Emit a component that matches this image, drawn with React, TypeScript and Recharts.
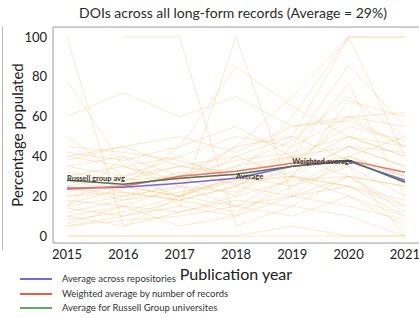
import React from "react";
import {
  LineChart,
  Line,
  XAxis,
  YAxis,
  ReferenceLine,
  Legend,
} from "recharts";

const YEARS = [2015, 2016, 2017, 2018, 2019, 2020, 2021];

// mean across repositories, weighted by records, Russell Group only
const AVERAGE = [24, 24.5, 26.5, 29, 35, 37.5, 28];
const WEIGHTED = [23.5, 25, 30, 32.5, 36.5, 38, 32];
const RUSSELL = [28, 26, 29, 31, 35, 38, 27];

// one row per repository, % of records with a DOI per year
const REPOSITORIES: (number | null)[][] = [
  [100, 5, 20, 15, 30, 25, 10],
  [78, 35, 40, 25, 20, 30, 15],
  [60, 72, 60, 70, 55, 60, 45],
  [null, 100, 100, 5, 15, 30, 25],
  [15, 40, 15, 100, 20, 40, 30],
  [30, 25, 45, 85, 65, 50, 40],
  [40, 45, 35, 30, 60, 100, 100],
  [25, 20, 30, 45, 70, 100, 100],
  [10, 15, 25, 40, 50, 100, 40],
  [35, 30, 40, 50, 45, 86, 55],
  [20, 25, 20, 35, 40, 77, 20],
  [0, 0, 0, 0, 0, 0, 0],
  [5, 10, 15, 10, 30, 68, 60],
  [45, 42, 38, 30, 35, 40, 50],
  [12, 18, 22, 28, 32, 45, 35],
  [28, 22, 18, 25, 38, 55, 48],
  [8, 12, 20, 30, 25, 35, 0],
  [35, 40, 30, 20, 45, 60, 55],
  [18, 15, 12, 20, 28, 30, 25],
  [25, 30, 35, 32, 40, 45, 42],
  [40, 35, 25, 15, 10, 20, 5],
  [22, 28, 30, 38, 42, 50, 45],
  [5, 8, 10, 15, 20, 25, 18],
  [30, 35, 28, 45, 50, 38, 30],
  [15, 20, 25, 22, 35, 60, 62],
  [50, 30, 20, 28, 30, 25, 15],
  [10, 5, 12, 18, 15, 10, 0],
  [32, 28, 35, 40, 30, 45, 35],
  [20, 22, 18, 12, 25, 40, 30],
  [38, 45, 50, 42, 55, 58, 45],
  [14, 10, 18, 25, 40, 35, 20],
  [25, 18, 28, 35, 48, 70, 50],
  [42, 38, 45, 55, 40, 30, 12],
  [6, 15, 5, 10, 20, 15, 8],
  [30, 25, 20, 30, 35, 50, 40],
  [16, 24, 32, 26, 30, 20, 10],
  [0, 0, 0, 0, 5, 0, 0],
];

const Y_TICKS = [0, 20, 40, 60, 80, 100];

const LEGEND_ITEMS = [
  { label: "Average across repositories", color: "#7468dc" },
  { label: "Weighted average by number of records", color: "#ef5b47" },
  { label: "Average for Russell Group universites", color: "#5cad62" },
];

const FONT = "Lato, 'Open Sans', sans-serif";

const data = YEARS.map((year, i) => {
  const row: Record<string, number | null> = {
    year,
    avg: AVERAGE[i],
    weighted: WEIGHTED[i],
    russell: RUSSELL[i],
  };
  REPOSITORIES.forEach((r, k) => {
    row[`r${k}`] = r[i];
  });
  return row;
});

// draws a small tag next to one point of a line
const tagAt = (text: string, at: number) => (props: any) => {
  if (props.index !== at) return null;
  return (
    <text
      x={props.x}
      y={props.y - 2}
      fontSize={7.5}
      fontWeight={700}
      fill="#3a3a3a"
      fontFamily={FONT}
      dominantBaseline="central"
    >
      {text}
    </text>
  );
};

function LegendBox() {
  return (
    <div
      style={{ fontFamily: FONT, fontSize: 9.5, lineHeight: "14.5px", color: "#333" }}
    >
      {LEGEND_ITEMS.map((it) => (
        <div
          key={it.label}
          style={{ display: "flex", alignItems: "center", height: 14.5 }}
        >
          <span
            style={{
              display: "inline-block",
              width: 32,
              height: 2,
              background: it.color,
              marginLeft: 20,
              marginRight: 10,
            }}
          />
          <span>{it.label}</span>
        </div>
      ))}
    </div>
  );
}

export default function App() {
  return (
    <div
      style={{
        position: "absolute",
        left: 0,
        top: 0,
        width: 419,
        height: 318,
        background: "#fff",
        overflow: "hidden",
      }}
    >
      <div
        style={{
          position: "absolute",
          left: 0,
          top: 4,
          width: 419,
          textAlign: "center",
          paddingLeft: 47,
          boxSizing: "border-box",
          fontFamily: FONT,
          fontSize: 14,
          color: "#2b2b2b",
        }}
      >
        DOIs across all long-form records (Average = 29%)
      </div>
      <div
        style={{
          position: "absolute",
          left: 2,
          top: 27,
          width: 1,
          height: 223,
          background: "#b8b8b8",
        }}
      />
      <LineChart
        width={419}
        height={318}
        data={data}
        margin={{ top: 27, right: 0, left: 0, bottom: 45 }}
      >
        <XAxis
          dataKey="year"
          type="number"
          domain={[2014.75, 2021.25]}
          ticks={YEARS}
          tickLine={false}
          tickMargin={1}
          height={30}
          axisLine={{ stroke: "#9a9a9a" }}
          tick={{ fill: "#222", fontSize: 13, fontFamily: FONT }}
          label={{
            value: "Publication year",
            position: "bottom",
            offset: -4,
            fill: "#222",
            fontSize: 16,
            fontFamily: FONT,
          }}
        />
        <YAxis
          type="number"
          domain={[-3.5, 105]}
          ticks={Y_TICKS}
          width={53}
          tickLine={false}
          tickMargin={0}
          axisLine={{ stroke: "#9a9a9a" }}
          tick={{ fill: "#222", fontSize: 13, fontFamily: FONT }}
          label={{
            value: "Percentage populated",
            angle: -90,
            position: "center",
            dx: -9,
            fill: "#222",
            fontSize: 15,
            fontFamily: FONT,
          }}
        />
        <ReferenceLine y={105} stroke="#9a9a9a" />
        {REPOSITORIES.map((_, k) => (
          <Line
            key={k}
            dataKey={`r${k}`}
            stroke="#f8bd6a"
            strokeOpacity={0.35}
            strokeWidth={1}
            dot={false}
            isAnimationActive={false}
          />
        ))}
        <Line
          dataKey="avg"
          stroke="#7468dc"
          strokeWidth={1.5}
          dot={false}
          label={tagAt("Average", 3)}
          isAnimationActive={false}
        />
        <Line
          dataKey="weighted"
          stroke="#ee7466"
          strokeWidth={1.5}
          dot={false}
          label={tagAt("Weighted average", 4)}
          isAnimationActive={false}
        />
        <Line
          dataKey="russell"
          stroke="#56705a"
          strokeWidth={1.5}
          dot={false}
          label={tagAt("Russell group avg", 0)}
          isAnimationActive={false}
        />
        <Legend
          layout="horizontal"
          verticalAlign="middle"
          align="center"
          wrapperStyle={{ left: 0, top: 272, width: 300 }}
          content={() => <LegendBox />}
        />
      </LineChart>
    </div>
  );
}
